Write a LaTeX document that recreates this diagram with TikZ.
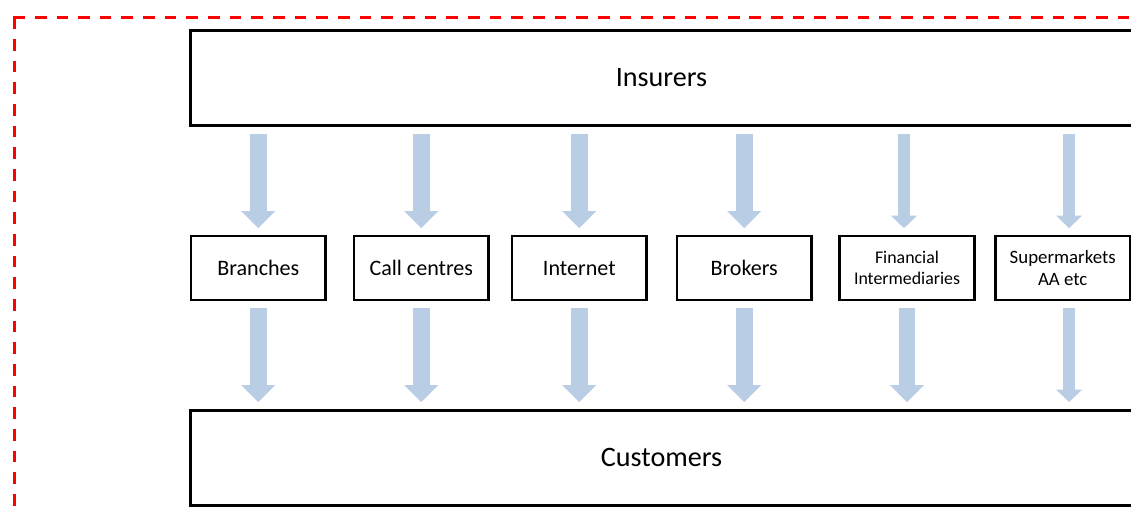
\documentclass[tikz,border=0pt]{standalone}
\usepackage{fontspec}
\setmainfont{Carlito}
\usetikzlibrary{arrows.meta}
\definecolor{arrowblue}{HTML}{B9CDE5}
\definecolor{framered}{HTML}{FF0000}

\begin{document}
\begin{tikzpicture}[x=0.025cm,y=-0.025cm,
  bigbox/.style={rectangle,draw=black,line width=2.1pt,minimum width=23.56cm,minimum height=2.37cm,inner sep=0pt,font=\fontsize{20}{24}\selectfont},
  chanbox/.style={rectangle,draw=black,line width=1.85pt,minimum width=3.36cm,minimum height=1.59cm,inner sep=0pt,align=center,font=\fontsize{15.7}{19}\selectfont},
  flow/.style={arrowblue,line width=11.9pt,shorten <=4.8pt,shorten >=4.8pt,-{Triangle[width=24.2pt,length=12.1pt,line width=0pt]}},
  thinflow/.style={arrowblue,line width=8.5pt,shorten <=4.8pt,shorten >=4.8pt,-{Triangle[width=18.5pt,length=8.9pt,line width=0pt]}},
  frame/.style={framered,line width=1.9pt,dash pattern=on 8.3pt off 7.1pt}]

\useasboundingbox (0,0) rectangle (1131,514);
\clip (0,0) rectangle (1131,514);

\draw[frame] (13.2,17.5) -- (1140,17.5);
\draw[frame] (14.5,17.5) -- (14.5,530);

\node[bigbox] (ins) at (661.5,78) {Insurers};
\node[bigbox] (cus) at (661.5,457.7) {Customers};

\node[chanbox] (br) at (258.3,268) {Branches};
\node[chanbox] (cc) at (421.3,268) {Call centres};
\node[chanbox] (net) at (579.3,268) {Internet};
\node[chanbox] (bro) at (744.2,268) {Brokers};
\node[chanbox,font=\fontsize{12.7}{15.4}\selectfont] (fin) at (907,268) {Financial\\Intermediaries};
\node[chanbox,font=\fontsize{13.4}{15.6}\selectfont] (sup) at (1062.7,268) {Supermarkets\\AA etc};

\coordinate (finaxis) at ([xshift=-0.075cm]fin.center);
\coordinate (supaxis) at ([xshift=0.16cm]sup.center);

\draw[flow] (ins.south -| br.north) -- (br.north);
\draw[flow] (ins.south -| cc.north) -- (cc.north);
\draw[flow] (ins.south -| net.north) -- (net.north);
\draw[flow] (ins.south -| bro.north) -- (bro.north);
\draw[thinflow] (ins.south -| finaxis) -- (fin.north -| finaxis);
\draw[thinflow] (ins.south -| supaxis) -- (sup.north -| supaxis);

\draw[flow] (br.south) -- (cus.north -| br.south);
\draw[flow] (cc.south) -- (cus.north -| cc.south);
\draw[flow] (net.south) -- (cus.north -| net.south);
\draw[flow] (bro.south) -- (cus.north -| bro.south);
\draw[flow] (fin.south) -- (cus.north -| fin.south);
\draw[thinflow] (sup.south -| supaxis) -- (cus.north -| supaxis);

\end{tikzpicture}
\end{document}
